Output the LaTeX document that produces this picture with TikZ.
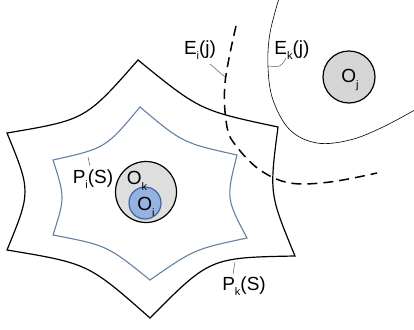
\documentclass[tikz,border=0pt]{standalone}
\usepackage{fontspec}
\setmainfont{Liberation Sans}
\definecolor{innerblue}{RGB}{100,128,162}
\definecolor{oifill}{RGB}{150,178,225}
\definecolor{oidraw}{RGB}{70,100,165}
\definecolor{okfill}{RGB}{222,222,222}
\definecolor{ojfill}{RGB}{214,214,214}
\newcommand{\lowsub}[1]{\raisebox{-0.3em}{\fontsize{11}{11}\selectfont #1}}
\begin{document}
\begin{tikzpicture}[x=1pt,y=-1pt,
  outerstar/.style={draw=black,line width=1.2pt,line join=miter},
  innerstar/.style={draw=innerblue,line width=1.1pt,line join=miter},
  lbl/.style={inner sep=0pt,font=\fontsize{19}{22}\selectfont},
  leader/.style={draw=black!65,line width=0.5pt},
  disc/.style={circle,inner sep=0pt,line width=1.2pt}]
\useasboundingbox (0,0) rectangle (414,329);
\clip (0,0) rectangle (414,329);
% outer star P_k(S)
\draw[outerstar] (138,60) .. controls (199.9,110.4) .. (278,127)
  .. controls (269.3,193.8) .. (295,256)
  .. controls (209.9,257.6) .. (150,318)
  .. controls (88.3,263.5) .. (7,250)
  .. controls (31,191.5) .. (7,133)
  .. controls (85.5,119.8) .. cycle;
% inner star P_i(S)
\draw[innerstar] (140,107) .. controls (182.6,142.9) .. (237,155)
  .. controls (226.1,198.4) .. (247,238)
  .. controls (194.3,249.2) .. (150,280)
  .. controls (107.1,245.4) .. (53,235)
  .. controls (65,197.5) .. (53,160)
  .. controls (105.5,148.3) .. cycle;
% E_k(j)
\draw[line width=0.6pt] plot[smooth,tension=0.6] coordinates
  {(280,-5) (270,33) (268,67) (273,100) (290,130) (317,143) (350,140) (383,127) (420,107)};
% E_i(j)
\draw[line width=1.5pt,dash pattern=on 10pt off 6pt] plot[smooth,tension=0.6] coordinates
  {(236,26) (225,83) (227,127) (237,147) (260,170) (290,183) (330,182) (377,173)};
% discs
\node[disc,draw=black,fill=okfill,minimum size=61pt] (Ok) at (146,192) {};
\node[disc,draw=oidraw,fill=oifill,minimum size=32pt] (Oi) at (145,203) {};
\node[disc,draw=black,fill=ojfill,minimum size=52pt] (Oj) at (349,77) {};
% labels
\node[lbl] (OkL) at (137,181) {O\lowsub{k}};
\node[lbl] (OiL) at (146,207) {O\lowsub{i}};
\node[lbl] (OjL) at (350,80) {O\lowsub{j}};
\node[lbl] (PiL) at (93,179) {P\lowsub{i}(S)};
\node[lbl] (PkL) at (244,286) {P\lowsub{k}(S)};
\node[lbl] (EiL) at (200,50) {E\lowsub{i}(j)};
\node[lbl] (EkL) at (292,50) {E\lowsub{k}(j)};
% leaders
\coordinate (pia) at (90,166);
\coordinate (pib) at (88,157);
\draw[leader] (pia) -- (pib);
\coordinate (pka) at (233,274);
\coordinate (pkb) at (235,262);
\draw[leader] (pka) -- (pkb);
\coordinate (eia) at (210,64);
\coordinate (eib) at (225,77);
\draw[leader] (eia) -- (eib);
\coordinate (eka) at (268,66);
\coordinate (ekb) at (286,58);
\draw[leader] (eka) .. controls (281,67) .. (ekb);
\end{tikzpicture}
\end{document}
